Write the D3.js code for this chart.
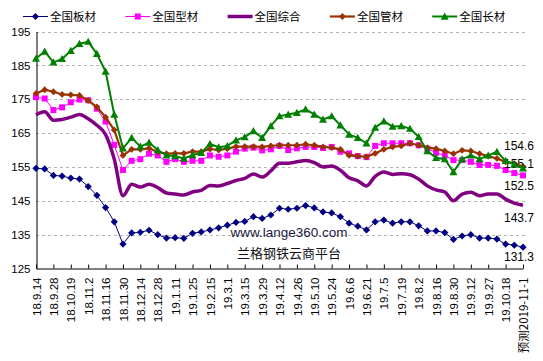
<!DOCTYPE html>
<meta charset="utf-8">
<title>lange steel price index</title>
<style>
    body { margin: 0; background: #fff; }
    text { font-family: "Liberation Sans", Arial, sans-serif; }
    .cn { font-family: "Noto Sans CJK SC", sans-serif; }
</style>

<body>
    <script src="https://d3js.org/d3.v7.min.js" charset="utf-8"></script>
    <script>
        // ---- data -------------------------------------------------

        var categories = [
            "18.9.14", "18.9.21", "18.9.28", "18.10.12", "18.10.19", "18.10.26", "18.11.2", "18.11.9",
            "18.11.16", "18.11.23", "18.11.30", "18.12.7", "18.12.14", "18.12.21", "18.12.28", "19.1.4",
            "19.1.11", "19.1.18", "19.1.25", "19.2.1", "19.2.15", "19.2.22", "19.3.1", "19.3.8",
            "19.3.15", "19.3.22", "19.3.29", "19.4.4", "19.4.12", "19.4.19", "19.4.26", "19.5.5",
            "19.5.10", "19.5.17", "19.5.24", "19.5.31", "19.6.6", "19.6.14", "19.6.21", "19.6.28",
            "19.7.5", "19.7.12", "19.7.19", "19.7.26", "19.8.2", "19.8.9", "19.8.16", "19.8.23",
            "19.8.30", "19.9.6", "19.9.12", "19.9.20", "19.9.27", "19.10.11", "19.10.18", "19.10.25",
            "预测2019-11-1"
        ];

        var banCai = [154.6, 154.4, 152.5, 152.3, 151.7, 151.4, 149.2, 146.6, 143.0, 138.8, 132.2, 135.5,
            135.7, 136.3, 135.0, 134.0, 134.1, 133.9, 135.4, 135.8, 136.4, 137.0, 137.8, 138.6, 138.9,
            140.3, 139.8, 140.8, 142.8, 142.5, 142.8, 143.6, 142.9, 141.7, 141.4, 140.3, 138.4, 137.5,
            136.4, 138.8, 139.3, 138.4, 138.8, 138.8, 137.6, 136.1, 136.1, 135.6, 133.6, 134.6, 135.0,
            134.0, 134.0, 133.7, 132.2, 131.9, 131.3];

        var xingCai = [175.6, 175.2, 171.8, 172.6, 174.1, 174.9, 174.7, 172.2, 168.4, 161.5, 154.1, 156.8,
            157.3, 158.9, 158.4, 156.5, 157.3, 156.5, 156.8, 156.8, 158.4, 158.0, 158.4, 159.5, 160.4,
            160.7, 159.9, 160.2, 161.2, 160.0, 160.5, 160.9, 160.9, 160.6, 160.9, 159.5, 159.0, 158.2,
            157.9, 161.2, 162.0, 162.0, 162.0, 162.0, 161.4, 160.4, 159.2, 158.4, 157.0, 157.0, 156.5,
            155.6, 155.6, 155.3, 154.1, 153.2, 152.5];

        var zongHe = [170.4, 171.3, 168.8, 169.0, 169.7, 170.5, 169.2, 167.3, 164.6, 157.3, 146.5, 149.9,
            149.1, 149.9, 148.9, 147.3, 147.0, 146.7, 147.6, 148.1, 149.5, 149.4, 150.1, 151.0, 151.6,
            152.9, 152.0, 153.8, 156.1, 156.1, 156.5, 156.9, 156.3, 155.0, 155.3, 154.0, 151.8, 150.9,
            149.4, 152.2, 153.5, 152.8, 153.0, 152.7, 151.4, 149.4, 148.2, 147.6, 145.0, 147.0, 147.5,
            146.5, 147.0, 147.0, 145.5, 144.3, 143.7];

        var guanCai = [176.7, 177.8, 177.2, 176.4, 176.3, 176.1, 174.6, 172.7, 169.7, 165.9, 158.4, 160.2,
            160.2, 160.5, 159.4, 158.9, 159.0, 159.0, 159.5, 159.5, 160.3, 160.0, 160.4, 161.0, 161.0,
            161.0, 160.9, 161.2, 161.4, 161.4, 161.4, 161.7, 161.4, 160.9, 160.7, 160.2, 158.4, 158.2,
            158.0, 159.0, 160.2, 160.9, 161.2, 162.0, 161.4, 160.7, 160.4, 159.7, 158.9, 159.9, 159.7,
            158.9, 158.2, 157.5, 156.5, 156.0, 155.1];

        var changCai = [187.0, 189.1, 185.9, 186.9, 189.3, 191.4, 192.0, 188.4, 183.2, 170.5, 160.5, 163.6,
            161.0, 162.2, 160.0, 158.4, 158.2, 157.5, 158.5, 159.2, 161.8, 160.8, 161.2, 162.9, 163.8,
            165.6, 163.6, 167.1, 170.0, 170.5, 171.0, 172.0, 170.5, 169.0, 170.0, 167.3, 164.6, 163.6,
            162.0, 166.6, 168.5, 166.9, 167.1, 166.3, 163.9, 159.7, 157.7, 157.3, 153.5, 157.3, 158.4,
            157.3, 158.4, 159.5, 156.8, 155.8, 154.6];

        var seriesNames = ["全国板材", "全国型材", "全国综合", "全国管材", "全国长材"];
        var yTicks = [125, 135, 145, 155, 165, 175, 185, 195];

        // ---- series styling ---------------------------------------

        var series = [
            { name: seriesNames[0], values: banCai, color: "#000080", width: 1, marker: "diamond", r: 3.6, labelDy: 10 },
            { name: seriesNames[1], values: xingCai, color: "#ff00ff", width: 1, marker: "square", r: 3, labelDy: 10 },
            { name: seriesNames[2], values: zongHe, color: "#800080", width: 3.5, marker: null, labelDy: 13 },
            { name: seriesNames[3], values: guanCai, color: "#993300", width: 2.2, marker: "diamond", r: 3.4, labelDy: -3 },
            { name: seriesNames[4], values: changCai, color: "#008000", width: 2, marker: "triangle", r: 4, labelDy: -22 }
        ];

        var width = 543,
            height = 361;

        var svg = d3.select("body").append("svg")
            .attr("width", width)
            .attr("height", height);

        var x = d3.scalePoint()
            .domain(categories)
            .range([36, 523]);

        var y = d3.scaleLinear()
            .domain([125, 195])
            .range([268.5, 31.5]);

        // gridlines
        svg.append("g")
            .selectAll("line")
            .data(yTicks.slice(1))
            .join("line")
            .attr("x1", 36)
            .attr("x2", 525)
            .attr("y1", d => Math.round(y(d)) + 0.5)
            .attr("y2", d => Math.round(y(d)) + 0.5)
            .style("stroke", "#b4b4b4")
            .style("stroke-dasharray", "3,3");

        // y axis
        var yAxis = svg.append("g")
            .attr("transform", "translate(36.5,0)")
            .call(d3.axisLeft(y).tickValues(yTicks).tickSize(0).tickPadding(6));
        yAxis.select(".domain").style("stroke", "#000");
        yAxis.selectAll("text")
            .style("font-size", "11.5px")
            .style("fill", "#000");

        // x axis
        var labelCats = categories.filter((d, i) => i % 2 == 0);
        var xAxis = svg.append("g")
            .attr("transform", "translate(0,268.5)")
            .call(d3.axisBottom(x).tickValues(labelCats).tickSizeInner(-4).tickSizeOuter(0));
        xAxis.select(".domain").style("stroke", "#000");
        xAxis.selectAll("line").style("stroke", "#000");
        xAxis.selectAll("text")
            .attr("transform", "rotate(-90)")
            .attr("x", -9)
            .attr("y", 0)
            .attr("dy", "0.36em")
            .style("text-anchor", "end")
            .style("font-size", "11.5px")
            .style("font-family", d => d.indexOf("预测") >= 0 ? "'Noto Sans CJK SC', sans-serif" : null)
            .style("fill", "#000");

        // watermark
        svg.append("text")
            .attr("x", 289)
            .attr("y", 237)
            .attr("text-anchor", "middle")
            .style("font-size", "13.5px")
            .style("fill", "#1a1a40")
            .text("www.lange360.com");
        svg.append("text")
            .attr("class", "cn")
            .attr("x", 289)
            .attr("y", 258)
            .attr("text-anchor", "middle")
            .style("font-size", "13px")
            .style("fill", "#111")
            .text("兰格钢铁云商平台");

        function markerPath(type, r) {
            if (type == "diamond") return "M0," + (-r) + "L" + r + ",0L0," + r + "L" + (-r) + ",0Z";
            if (type == "square") return "M" + (-r) + "," + (-r) + "h" + 2 * r + "v" + 2 * r + "h" + (-2 * r) + "Z";
            if (type == "triangle") return "M0," + (-r) + "L" + r + "," + (r * 0.8) + "L" + (-r) + "," + (r * 0.8) + "Z";
            return "";
        }

        var line = d3.line()
            .x((d, i) => x(categories[i]))
            .y(d => y(d));

        var smooth = d3.line()
            .x((d, i) => x(categories[i]))
            .y(d => y(d))
            .curve(d3.curveMonotoneX);

        series.forEach(function (s) {
            var g = svg.append("g");
            g.append("path")
                .attr("d", (s.marker ? line : smooth)(s.values))
                .style("fill", "none")
                .style("stroke", s.color)
                .style("stroke-width", s.width)
                .style("stroke-linejoin", "round");

            if (s.marker) {
                g.selectAll("path.mk")
                    .data(s.values)
                    .join("path")
                    .attr("class", "mk")
                    .attr("transform", (d, i) => "translate(" + x(categories[i]) + "," + y(d) + ")")
                    .attr("d", markerPath(s.marker, s.r))
                    .style("fill", s.color);
            }

            // end value label
            var last = s.values.length - 1;
            g.append("text")
                .attr("x", x(categories[last]) - 4)
                .attr("y", y(s.values[last]) + s.labelDy)
                .attr("dy", "0.35em")
                .attr("text-anchor", "middle")
                .style("font-size", "12px")
                .style("fill", "#000")
                .text(s.values[last].toFixed(1));
        });

        // legend
        var legend = svg.append("g")
            .selectAll("g")
            .data(series)
            .join("g")
            .attr("transform", (d, i) => "translate(" + (23 + i * 102.3) + ",16.5)");

        legend.append("line")
            .attr("x1", 0)
            .attr("x2", 25)
            .style("stroke", d => d.color)
            .style("stroke-width", d => d.width);

        legend.filter(d => d.marker)
            .append("path")
            .attr("transform", "translate(12.5,0)")
            .attr("d", d => markerPath(d.marker, d.r))
            .style("fill", d => d.color);

        legend.append("text")
            .attr("class", "cn")
            .attr("x", 27)
            .attr("dy", "0.36em")
            .style("font-size", "11.5px")
            .style("fill", "#000")
            .text(d => d.name);
    </script>
</body>
